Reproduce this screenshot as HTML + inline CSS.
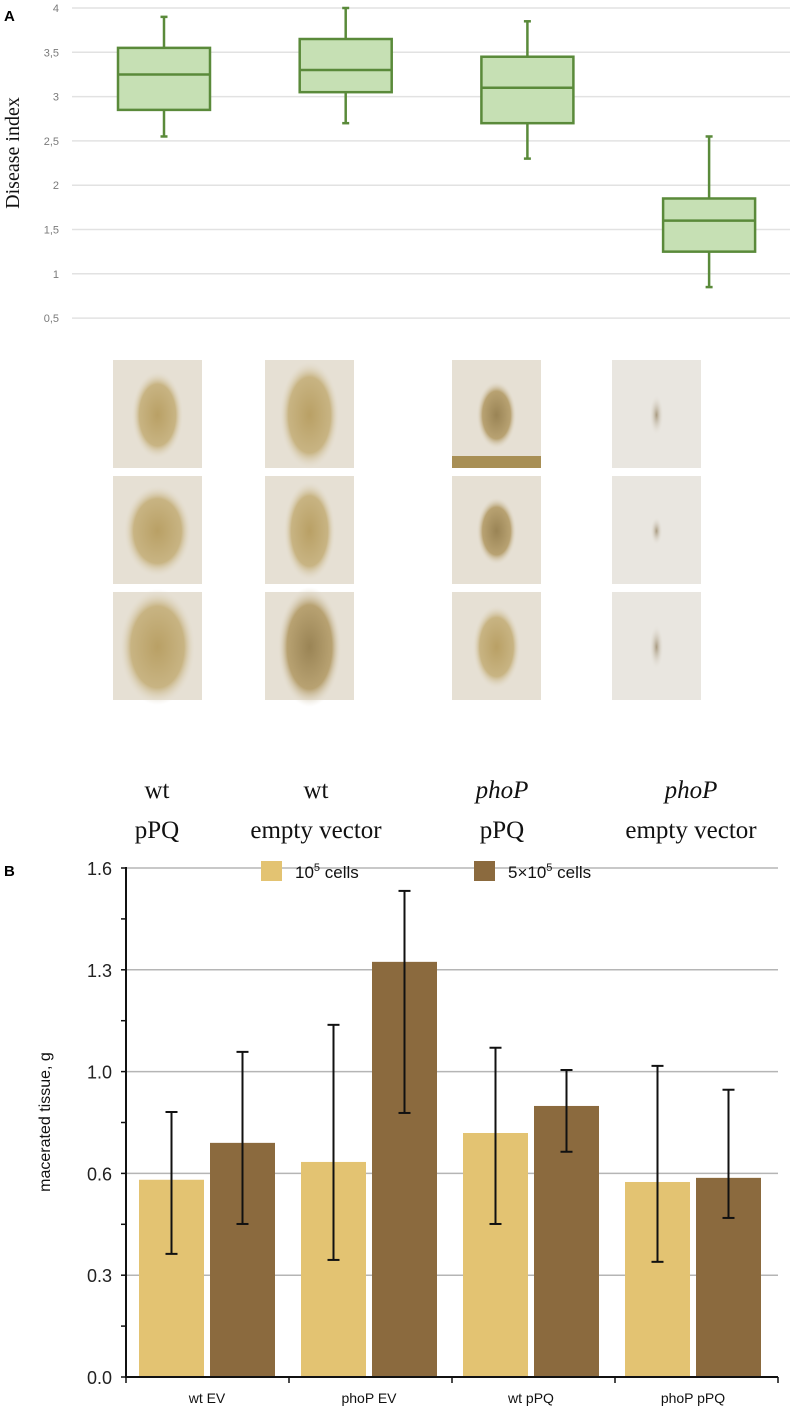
<!DOCTYPE html>
<html><head><meta charset="utf-8"><style>
html,body{margin:0;padding:0;background:#fff;}
svg{display:block;}
</style></head><body>
<svg id="fig" width="790" height="1410" viewBox="0 0 790 1410" xmlns="http://www.w3.org/2000/svg">
<defs>
<radialGradient id="lesA" cx="50%" cy="50%" r="50%"><stop offset="0" stop-color="#b9a065"/><stop offset="0.7" stop-color="#c8b483"/><stop offset="1" stop-color="#e6e0d3" stop-opacity="0"/></radialGradient>
<radialGradient id="lesB" cx="50%" cy="50%" r="50%"><stop offset="0" stop-color="#9a8455"/><stop offset="0.7" stop-color="#b8a272"/><stop offset="1" stop-color="#e6e0d3" stop-opacity="0"/></radialGradient>
<radialGradient id="lesC" cx="50%" cy="50%" r="50%"><stop offset="0" stop-color="#a89a80"/><stop offset="1" stop-color="#e6e2da" stop-opacity="0"/></radialGradient>
</defs>
<g id="panelA"></g>
<g id="photos"></g>
<g id="panelB"></g>
</svg>
<script>
// ---- Panel A data ----
const boxGroups = ["wt pPQ", "wt empty vector", "phoP pPQ", "phoP empty vector"];
const whiskerHigh = [3.9, 4.0, 3.85, 2.55];
const q3Values = [3.55, 3.65, 3.45, 1.85];
const medianValues = [3.25, 3.3, 3.1, 1.6];
const q1Values = [2.85, 3.05, 2.7, 1.25];
const whiskerLow = [2.55, 2.7, 2.3, 0.85];
const aTicks = [0.5, 1, 1.5, 2, 2.5, 3, 3.5, 4];
const aTickLabels = ["0,5", "1", "1,5", "2", "2,5", "3", "3,5", "4"];
// ---- Panel B data ----
const barCategories = ["wt EV", "phoP EV", "wt pPQ", "phoP pPQ"];
const lowDose = [0.62, 0.676, 0.767, 0.613];
const lowDoseErrHigh = [0.833, 1.107, 1.035, 0.978];
const lowDoseErrLow = [0.387, 0.368, 0.481, 0.362];
const highDose = [0.736, 1.305, 0.852, 0.626];
const highDoseErrHigh = [1.022, 1.528, 0.965, 0.903];
const highDoseErrLow = [0.481, 0.83, 0.708, 0.5];
const bTicks = [0, 0.32, 0.64, 0.96, 1.28, 1.6];
const bTickLabels = ["0.0", "0.3", "0.6", "1.0", "1.3", "1.6"];

const NS = "http://www.w3.org/2000/svg";
function mk(parent, tag, attrs, text) {
  const e = document.createElementNS(NS, tag);
  for (const k in attrs) e.setAttribute(k, attrs[k]);
  if (text !== undefined) e.textContent = text;
  parent.appendChild(e);
  return e;
}
// ---- Panel A ----
const A = document.getElementById("panelA");
const yA = v => 8 + (4 - v) * 88.6;
const xA = i => 164 + i * 181.7;
let t = mk(A, "text", {x: 4, y: 21, "font-family": "Liberation Sans, sans-serif", "font-weight": "bold", "font-size": 15}, "A");


aTicks.forEach((v, i) => {
  const g = mk(A, "line", {x1: 72, x2: 790, y1: yA(v), y2: yA(v), stroke: "#e2e2e2", "stroke-width": 1.5});
  
  
  const l = mk(A, "text", {x: 59, y: yA(v) + 4, "text-anchor": "end", "font-family": "Liberation Sans, sans-serif", "font-size": 11, fill: "#7a7a7a"}, aTickLabels[i]);
  
  
});
t = mk(A, "text", {transform: "translate(19,153) rotate(-90)", "text-anchor": "middle", "font-family": "Liberation Serif, serif", "font-size": 20, fill: "#111"}, "Disease index");


boxGroups.forEach((g, i) => {
  const c = xA(i), w = 92;
  const gr = mk(A, "g", {});
  
  
  mk(gr, "line", {x1: c, x2: c, y1: yA(whiskerHigh[i]), y2: yA(q3Values[i]), stroke: "#5a8a3a", "stroke-width": 2.5});
  mk(gr, "line", {x1: c, x2: c, y1: yA(q1Values[i]), y2: yA(whiskerLow[i]), stroke: "#5a8a3a", "stroke-width": 2.5});
  mk(gr, "line", {x1: c - 3.5, x2: c + 3.5, y1: yA(whiskerHigh[i]), y2: yA(whiskerHigh[i]), stroke: "#5a8a3a", "stroke-width": 2.5});
  mk(gr, "line", {x1: c - 3.5, x2: c + 3.5, y1: yA(whiskerLow[i]), y2: yA(whiskerLow[i]), stroke: "#5a8a3a", "stroke-width": 2.5});
  mk(gr, "rect", {x: c - w / 2, y: yA(q3Values[i]), width: w, height: yA(q1Values[i]) - yA(q3Values[i]), fill: "#c6e0b4", stroke: "#5a8a3a", "stroke-width": 2.5});
  mk(gr, "line", {x1: c - w / 2, x2: c + w / 2, y1: yA(medianValues[i]), y2: yA(medianValues[i]), stroke: "#5a8a3a", "stroke-width": 2.5});
});
// ---- Photos ----
const P = document.getElementById("photos");
const colX = [113, 265, 452, 612];
const rowY = [360, 476, 592];
const lesW = [[26,34,38],[30,26,32],[20,20,24],[7,6,7]];
const lesH = [[44,46,58],[54,50,60],[34,34,42],[20,14,22]];
const grads = [["lesA","lesA","lesA"],["lesA","lesA","lesB"],["lesB","lesB","lesA"],["lesC","lesC","lesC"]];
colX.forEach((x, ci) => rowY.forEach((y, ri) => {
  const g = mk(P, "g", {});
  
  
  mk(g, "rect", {x: x, y: y, width: 89, height: 108, fill: ci === 3 ? "#e9e6e0" : "#e6e0d4"});
  mk(g, "ellipse", {cx: x + 44.5, cy: y + 55, rx: lesW[ci][ri], ry: lesH[ci][ri], fill: "url(#" + grads[ci][ri] + ")"});
  if (ci === 2 && ri === 0) mk(g, "rect", {x: x, y: y + 96, width: 89, height: 12, fill: "#a88f55"});
}));
const lab1 = ["wt", "wt", "phoP", "phoP"];
const lab2 = ["pPQ", "empty vector", "pPQ", "empty vector"];
const labX = [157, 316, 502, 691];
lab1.forEach((s, i) => {
  let e = mk(P, "text", {x: labX[i], y: 798, "text-anchor": "middle", "font-family": "Liberation Serif, serif", "font-size": 25, "font-style": i >= 2 ? "italic" : "normal", fill: "#111"}, s);
  
  
  e = mk(P, "text", {x: labX[i], y: 838, "text-anchor": "middle", "font-family": "Liberation Serif, serif", "font-size": 25, fill: "#111"}, lab2[i]);
  
  
});
// ---- Panel B ----
const B = document.getElementById("panelB");
const yB = v => 1377 - v / 1.6 * 509;
const gx = i => 207 + i * 162;
t = mk(B, "text", {x: 4, y: 876, "font-family": "Liberation Sans, sans-serif", "font-weight": "bold", "font-size": 15}, "B");


bTicks.forEach((v, i) => {
  if (i > 0) {
    const g = mk(B, "line", {x1: 126, x2: 778, y1: yB(v), y2: yB(v), stroke: "#b5b5b5", "stroke-width": 1.5});
    
    
  }
  const l = mk(B, "text", {x: 112, y: yB(v) + 7, "text-anchor": "end", "font-family": "Liberation Sans, sans-serif", "font-size": 18, fill: "#222"}, bTickLabels[i]);
  
  
});
for (let k = 0; k <= 10; k++) {
  const yy = yB(k * 0.16);
  mk(B, "line", {x1: 121, x2: 126, y1: yy, y2: yy, stroke: "#111", "stroke-width": 1.5});
}
t = mk(B, "text", {transform: "translate(50,1122) rotate(-90)", "text-anchor": "middle", "font-family": "Liberation Sans, sans-serif", "font-size": 16, fill: "#111"}, "macerated tissue, g");


function errBar(x, hi, lo) {
  const g = mk(B, "g", {stroke: "#111", "stroke-width": 2});
  
  
  mk(g, "line", {x1: x, x2: x, y1: yB(hi), y2: yB(lo)});
  mk(g, "line", {x1: x - 6, x2: x + 6, y1: yB(hi), y2: yB(hi)});
  mk(g, "line", {x1: x - 6, x2: x + 6, y1: yB(lo), y2: yB(lo)});
}
barCategories.forEach((c, i) => {
  const cx = gx(i), bw = 65;
  let r = mk(B, "rect", {x: cx - 3 - bw, y: yB(lowDose[i]), width: bw, height: yB(0) - yB(lowDose[i]), fill: "#e3c372"});
  
  
  r = mk(B, "rect", {x: cx + 3, y: yB(highDose[i]), width: bw, height: yB(0) - yB(highDose[i]), fill: "#8b6a3e"});
  
  
  errBar(cx - 3 - bw / 2, lowDoseErrHigh[i], lowDoseErrLow[i]);
  errBar(cx + 3 + bw / 2, highDoseErrHigh[i], highDoseErrLow[i]);
  const l = mk(B, "text", {x: cx, y: 1403, "text-anchor": "middle", "font-family": "Liberation Sans, sans-serif", "font-size": 14, fill: "#111"}, c);
  
  
});
mk(B, "line", {x1: 126, x2: 126, y1: 867, y2: 1378, stroke: "#111", "stroke-width": 2});
mk(B, "line", {x1: 125, x2: 778, y1: 1377, y2: 1377, stroke: "#111", "stroke-width": 2});
for (let i = 0; i <= 4; i++) mk(B, "line", {x1: 126 + i * 163, x2: 126 + i * 163, y1: 1377, y2: 1383, stroke: "#111", "stroke-width": 1.5});
// legend
let lg = mk(B, "g", {});


mk(lg, "rect", {x: 261, y: 861, width: 21, height: 20, fill: "#e3c372"});
let lt = mk(lg, "text", {x: 295, y: 878, "font-family": "Liberation Sans, sans-serif", "font-size": 17, fill: "#111"}, "10");
mk(lt, "tspan", {"font-size": 11, dy: -7}, "5");
mk(lt, "tspan", {dy: 7}, " cells");
lg = mk(B, "g", {});


mk(lg, "rect", {x: 474, y: 861, width: 21, height: 20, fill: "#8b6a3e"});
lt = mk(lg, "text", {x: 508, y: 878, "font-family": "Liberation Sans, sans-serif", "font-size": 17, fill: "#111"}, "5×10");
mk(lt, "tspan", {"font-size": 11, dy: -7}, "5");
mk(lt, "tspan", {dy: 7}, " cells");
</script>
</body></html>
